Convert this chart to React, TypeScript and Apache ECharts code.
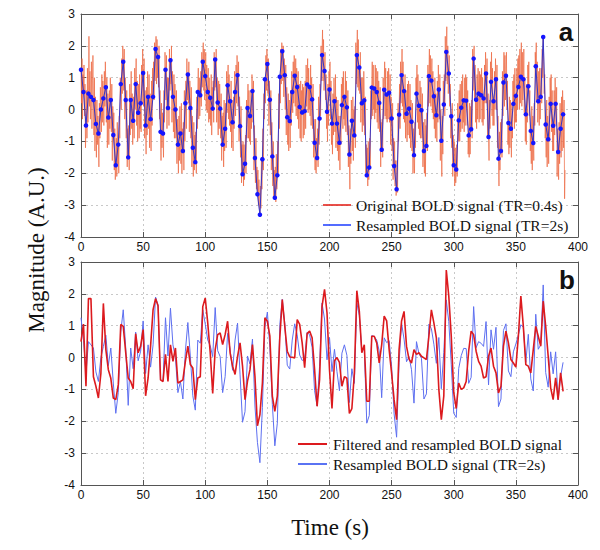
import React, { useEffect, useRef } from "react";
import * as echarts from "echarts";

// Sampling intervals (s)
const resampledTR = 2;
const originalTR = 0.4;

// Resampled BOLD signal (TR = 2 s), t = 0..388 s
const resampled = [
  1.25, 0.55, -0.5, 0.5, 0.4, 0.3, -0.45, -0.75, 0.0, 0.35,
  0.7, -0.25, 0.3, -0.8, -1.75, -1.1, 0.8, 1.5, 0.3, -1.5,
  0.3, -0.35, 0.8, -0.1, 0.2, 1.15, -0.5, 0.4, -0.3, 0.4,
  1.9, 1.65, -0.7, -0.75, 1.25, 0.05, 1.55, 0.4, 0.0, -1.1,
  -0.75, -1.3, 0.2, 1.1, 0.05, -1.2, -1.65, 0.55, 0.45, 1.5,
  1.05, 0.55,
  0.37, 0.03, 1.57, 0.22, 0.03, -1.1, -0.6, 0.76, 0.26, -0.4,
  0.55, 1.08, -0.52, -2.03, -1.7, 0.05, -0.2, 0.58, -1.52, -2.66,
  -3.3, -1.56, 0.95, 1.43, 0.31, -1.47, -2.77, -2.06, 1.03, 1.83,
  1.08, -0.24, -0.36, 0.55, 1.06, 0.71, 0.08, -0.09, -0.05, 0.79,
  0.71, 0.32, -1.04, -1.52, -0.28, 1.71, 1.21, -0.07,
  0.63, -0.44, 0.26, -0.44, -1.04, 0.14, 0.4, 0.07, -1.41, -0.35,
  -0.81, 1.71, 1.32, 0.2, 0.29, -2.06, -1.82, 0.69, 0.66, 0.55,
  0.21, -1.26, 0.62, 0.47, 0.53, -0.28, -1.77, -2.5, -0.16, 1.08,
  0.58, -0.13, 0.03, -0.38, -1.43, 0.5, 0.12, -0.02, -1.3, -1.14,
  1.05, 0.91, 0.42, -0.18, 0.63, -0.98, 0.16, 1.81, 1.13, -0.21,
  -1.75, -1.88, -0.34,
  0.06, 0.29, 0.28, -0.81, -0.62, 1.6, 0.31, 0.5, 0.45, 0.35,
  1.13, -0.86, 0.87, 0.26, 0.95, -1.54, -1.3, 0.85, 1.06, -0.42,
  -0.6, 0.18, 0.43, 0.71, 1.03, 0.95, -0.15, 0.73, -0.67, -1.05,
  1.36, 0.26, 0.4, 2.28, -0.47, -0.93, 0.18, -0.51, 0.18, -1.33,
  -0.6, -0.15,
];

// Filtered and resampled BOLD signal (TR = 2 s), t = 0..388 s
const filtered = [
  0.5, 1.05, -0.9, 1.85, 1.85, -0.6, -0.9, -1.27, -0.5, 1.7,
  0.25, -0.38, -0.65, -1.27, -1.32, -0.85, 1.04, 0.98, 0.15, -0.64,
  -0.75, -0.98, 0.75, 0.15, 0.36, 0.88, -1.2, -0.64, 0.36, 1.5,
  1.85, 1.63, -0.7, -0.75, 0.1, -0.75, 0.4, -0.12, 0.3, -0.8,
  -0.75, -0.7, -0.12, 0.36, -0.22, -0.33, -1.32, -0.64, -0.6, 1.6,
  1.87, 1.09,
  0.15, -1.13, 0.25, 0.72, 0.77, 0.41, 0.72, 1.14, 0.15, -0.27,
  -0.53, 0.04, 0.46, -0.27, -1.32, -0.74, -0.38, 0.41, -0.59, -2.14,
  -1.79, -0.8, 1.25, 1.14, 0.67, -1.21, -1.69, -1.21, 0.62, 1.82,
  0.98, 0.2, 0.02, 0.01, -0.01, 1.19, 1.04, 0.46, -0.32, 0.75,
  0.83, 0.62, -0.38, -1.53, -0.69, 1.61, 2.14, 1.4,
  -0.38, -1.6, -0.1, 0.0, -0.15, -0.9, -0.6, -0.65, -1.75, -1.6,
  -0.5, 2.1, 1.45, 0.15, 0.4, -1.37, -1.37, 0.67, 0.67, 0.46,
  -0.17, 0.4, 1.3, 1.15, 0.25, -0.5, -1.33, -1.95, 0.25, 1.15,
  1.45, 0.35, -0.05, -0.17, 0.25, 0.1, 0.15, 0.04, -0.01, -0.06,
  0.67, 1.5, 1.09, 0.62, -1.0, -1.95, -1.2, 2.75, 1.93, 0.67,
  -1.1, -1.6, -0.8,
  -1.0, -0.95, -0.75, 0.2, 0.83, 0.72, 0.2, -0.12, -0.27, -0.64,
  -0.6, 0.04, 0.3, -0.27, -0.48, -1.11, -0.9, 0.36, 0.83, 0.46,
  -0.06, -0.17, -0.3, 0.67, 1.93, 0.98, -0.22, -0.27, -0.48, 0.25,
  0.98, 0.67, 0.36, 1.77, 0.98, 0.04, -0.95, -1.32, -0.64, -1.32,
  -0.48, -1.06,
];

// Original BOLD signal (TR = 0.4 s): the four samples between consecutive 2-s samples
const originalBetween = [
  0.2,1.6,-0.3,1.1, 1.4,-0.2,0.8,-1.2, 0.6,-0.9,1.3,-0.4, 2.3,0.1,1.2,-0.3, 1.5,-0.6,0.9,1.7,
  -0.8,1.0,-1.3,0.4, -1.5,0.3,-1.1,-0.2, -1.8,0.2,-0.9,0.7, -0.7,1.1,-0.4,0.9, -0.5,1.2,0.1,1.5,
  -0.4,1.0,-1.2,0.5, -1.1,0.6,-0.6,1.0, -0.7,0.8,-1.6,0.1, -0.1,-1.9,-0.6,-2.2, -0.9,-2.1,-0.4,-1.7,
  -2.0,-0.2,-0.9,1.0, 0.0,1.6,0.5,2.0, 0.6,1.9,-0.3,1.0, -0.9,0.6,-1.8,-0.6, -0.5,-1.9,0.8,-0.8,
  1.2,-0.6,0.5,-1.1, 0.4,-0.9,1.3,0.0, 1.6,-0.5,0.9,-1.0, 0.8,-0.9,1.1,-0.6, -0.7,1.4,0.2,1.9,
  0.1,1.6,-0.9,0.6, -1.4,0.7,-0.8,1.2, -0.6,1.1,-1.2,0.5, -1.3,0.9,-0.5,1.3, 1.5,0.3,2.1,0.9,
  2.3,0.8,2.2,1.0, 0.7,2.0,-0.3,0.6, -1.6,0.2,-1.2,-0.1, -1.5,0.6,-0.4,1.8, 0.3,1.7,-0.6,1.0,
  1.0,-0.5,1.9,0.6, 0.8,2.0,-0.4,1.2, -0.7,1.1,-0.9,0.8, -0.9,0.6,-1.7,-0.3, -2.0,-0.2,-1.6,0.1,
  -1.7,0.2,-2.0,-0.6, -0.4,-1.9,0.6,-1.0, 0.9,-0.6,1.6,0.3, 0.2,1.5,-0.7,0.9, -0.9,0.7,-1.8,-0.2,
  -2.1,-0.4,-1.9,-0.8, -0.7,-2.0,0.4,-0.6, 1.3,-0.3,1.0,-0.2, 1.2,0.1,1.8,0.7, 2.1,0.6,1.9,0.3,
  1.8,0.0,1.4,-0.1, 1.3,-0.4,1.0,-0.3, -0.5,1.1,-0.8,0.7, 0.9,-0.4,1.8,0.6, 0.7,1.9,-0.4,1.0,
  -0.8,0.9,-0.6,0.8, -0.9,0.5,-1.6,-0.2, -0.1,-1.8,0.3,-1.3, 0.2,-1.2,1.2,-0.1, 1.4,-0.3,1.1,-0.5,
  -0.7,0.9,-1.2,0.3, -1.3,0.4,-0.6,1.2, -0.2,1.4,0.2,1.7, 0.1,1.5,-1.0,0.4, -1.5,0.1,-2.3,-1.1,
  -1.0,-2.4,-1.1,-2.2, -0.8,-2.0,0.3,-0.9, 0.8,-0.9,0.6,-1.0, -1.1,0.6,-0.6,1.1, -0.4,0.9,-1.9,-0.5,
  -2.3,-0.9,-2.5,-1.8, -1.9,-3.0,-2.2,-3.1, -2.4,-3.1,-1.5,-2.5, -0.6,-1.9,0.5,-0.3, 0.2,1.7,0.6,1.9,
  0.5,1.6,-0.5,0.9, -0.8,0.6,-1.9,-0.4, -2.4,-1.0,-2.8,-1.9, -1.8,-2.9,-1.4,-2.5, -1.0,-2.0,0.5,-0.6,
  0.2,1.9,0.8,2.1, 0.9,2.0,0.4,1.6, 0.0,1.4,-0.8,0.7, -1.1,0.5,-1.3,0.3, -1.2,0.6,-0.5,1.2,
  -0.1,1.5,0.2,1.7, 0.1,1.6,-0.2,1.3, -0.3,1.2,-0.6,0.8, -0.9,0.9,-1.0,0.6, 0.8,-0.9,0.7,-0.8,
  0.9,-0.6,1.4,0.1, 1.6,-0.1,1.3,0.0, -0.2,1.4,-0.5,1.0, -0.6,0.8,-1.5,-0.3, -1.9,-0.3,-2.0,-0.9,
  -0.6,-1.8,0.4,-1.1, 0.8,-0.2,2.0,0.9, 2.5,0.9,2.2,0.6, 1.8,0.3,1.1,-0.6, -1.0,0.8,-0.5,1.2,
  1.5,-0.3,0.9,-1.1, -1.4,0.5,-0.8,1.0, -0.7,1.1,-1.2,0.4, -1.3,0.3,-1.6,-0.2, -1.9,-0.2,-1.1,0.8,
  1.0,-0.6,1.2,-0.3, -0.5,1.2,-0.7,0.9, -0.8,0.6,-1.8,-0.5, -2.5,-0.6,-1.7,0.3, -1.3,0.4,-1.6,0.0,
  0.1,-1.2,2.1,0.8, 2.5,0.7,2.2,0.6, 0.5,1.8,-0.4,1.0, -0.7,1.0,-0.5,1.2, -0.8,0.4,-2.0,-1.1,
  -1.2,-2.4,-1.0,-2.2, -0.9,-1.8,0.6,-0.3, 1.5,-0.2,1.4,0.0, -0.3,1.4,-0.1,1.3, -0.4,1.2,-0.6,0.9,
  -0.7,0.7,-1.8,-0.4, -0.3,-1.5,1.0,-0.3, 1.5,-0.2,1.3,-0.3, -0.4,1.2,-0.3,1.3, -0.4,1.1,-1.1,0.4,
  -1.3,0.2,-2.2,-0.9, -1.0,-2.4,-1.6,-2.7, -1.6,-2.6,0.2,-1.0, 0.8,-0.6,1.5,0.2, 1.9,0.1,1.5,-0.3,
  -0.4,1.1,-0.9,0.6, -1.0,0.8,-0.8,0.9, -0.9,0.8,-1.2,0.3, -1.3,0.2,-2.0,-0.6, -2.0,-0.4,-1.2,1.0,
  1.4,-0.4,1.1,-0.6, -0.8,0.9,-0.9,0.7, -0.9,0.5,-1.8,-0.4, -2.0,-0.3,-2.1,-0.5, -0.1,-1.3,1.4,0.1,
  1.9,0.2,1.7,0.1, 1.6,-0.1,1.2,-0.3, -0.6,1.0,-0.9,0.5, -1.0,0.9,-0.4,1.4, -0.3,1.1,-1.6,0.0,
  -2.1,-0.2,-1.4,0.9, 1.1,-0.2,2.3,0.9, 2.6,0.8,2.0,0.5, 1.7,0.1,0.8,-0.9, -1.2,0.2,-2.1,-0.8,
  -1.0,-2.4,-1.2,-2.3, -1.1,-2.1,0.2,-1.0, 0.6,-1.0,0.8,-0.7, 0.9,-0.6,1.1,-0.4, -0.7,1.0,-0.5,1.1,
  1.0,-0.5,0.6,-1.4, -1.5,0.2,-1.4,0.1, 0.3,-0.9,1.9,0.6, 2.0,0.3,1.4,-0.4, -0.6,1.1,-0.3,1.3,
  -0.4,1.2,-0.3,1.1, 1.3,-0.4,1.0,-0.5, -0.3,1.4,0.2,1.8, 0.2,1.6,-0.9,0.5, -1.6,0.3,-0.6,1.5,
  1.8,-0.2,1.3,-0.5, -0.5,1.2,0.0,1.6, 0.0,1.4,-1.2,-0.2, -2.4,-0.7,-1.9,-0.4, -0.3,-1.5,1.2,-0.2,
  1.8,0.1,1.7,0.3, 1.8,0.0,0.9,-1.1, -1.4,0.4,-1.2,0.3, -1.5,0.2,-0.9,0.9, 1.1,-0.6,1.3,-0.4,
  -0.4,1.3,0.0,1.6, 1.7,0.0,1.9,0.2, 2.1,0.1,1.8,0.3, 1.9,-0.1,1.0,-1.0, -1.1,0.8,-0.4,1.4,
  1.5,-0.2,0.6,-1.3, -1.7,0.1,-1.9,-0.2, -1.6,0.2,-0.5,1.8, 2.1,0.3,1.5,-0.4, 1.2,-0.5,1.3,-0.3,
  1.3,0.2,1.9,1.0, 1.5,0.5,1.1,-0.9, -1.5,0.3,-1.8,-0.2, -1.7,0.4,-1.0,1.0, 1.1,-0.7,0.6,-1.3,
  -1.3,0.6,-0.8,1.0, -0.5,0.7,-2.1,-0.6, -2.2,-0.4,-1.7,0.2, -1.5,0.4,-1.3,0.6, -1.2,0.3,-2.8,-1.9,
];

const xTicksMax = 400;
const xTickStep = 50;
const yMin = -4;
const yMax = 3;

const legendTop = ["Original BOLD signal (TR=0.4s)", "Resampled BOLD signal (TR=2s)"];
const legendBottom = ["Filtered and resampled BOLD signal", "Resampled BOLD signal (TR=2s)"];

const SANS = "'Liberation Sans', Arial, Helvetica, sans-serif";
const SERIF = "'Liberation Serif', 'Times New Roman', serif";

export default function App() {
  const ref = useRef<HTMLDivElement>(null);

  useEffect(() => {
    document.body.style.margin = "0";
    const chart = echarts.init(ref.current!, null, { renderer: "svg" });

    const original: number[][] = [];
    resampled.forEach((v, i) => {
      original.push([i * resampledTR, v]);
      for (let k = 0; k < 4; k++) {
        const w = originalBetween[i * 4 + k];
        if (w !== undefined) {
          original.push([+(i * resampledTR + originalTR * (k + 1)).toFixed(1), w]);
        }
      }
    });
    const resPts = resampled.map((v, i) => [i * resampledTR, v]);
    const filtPts = filtered.map((v, i) => [i * resampledTR, v]);

    const axisLine = { show: true, onZero: false, lineStyle: { color: "#555", width: 1 } };
    const axisTick = { show: true, inside: true, length: 5, lineStyle: { color: "#555" } };
    const splitLine = { show: true, lineStyle: { color: "#c8c8c8", type: [2, 3], width: 1 } };
    const label = { color: "#111", fontFamily: SANS, fontSize: 12 };

    const xAxes: any[] = [];
    const yAxes: any[] = [];
    [0, 1].forEach((g) => {
      xAxes.push({
        type: "value", gridIndex: g, min: 0, max: xTicksMax, interval: xTickStep,
        position: "bottom", axisLine, axisTick, splitLine,
        axisLabel: { ...label, margin: 4 },
      });
      xAxes.push({
        type: "value", gridIndex: g, min: 0, max: xTicksMax, interval: xTickStep,
        position: "top", axisLine, axisTick, splitLine: { show: false },
        axisLabel: { show: false },
      });
      yAxes.push({
        type: "value", gridIndex: g, min: yMin, max: yMax, interval: 1,
        position: "left", axisLine, axisTick, splitLine,
        axisLabel: { ...label, margin: 6 },
      });
      yAxes.push({
        type: "value", gridIndex: g, min: yMin, max: yMax, interval: 1,
        position: "right", axisLine, axisTick, splitLine: { show: false },
        axisLabel: { show: false },
      });
    });

    const legendGraphic = (
      names: string[], colors: string[], widths: number[],
      x1: number, x2: number, tx: number, ys: number[], size: number
    ) => {
      const els: any[] = [];
      names.forEach((n, i) => {
        els.push({
          type: "line", shape: { x1, y1: ys[i], x2, y2: ys[i] },
          style: { stroke: colors[i], lineWidth: widths[i] }, z: 100,
        });
        els.push({
          type: "text", x: tx, y: ys[i],
          style: { text: n, fill: "#111", font: `${size}px ${SERIF}`, textVerticalAlign: "middle", textAlign: "left" },
          z: 100,
        });
      });
      return els;
    };

    chart.setOption({
      animation: false,
      backgroundColor: "#fff",
      grid: [
        { left: 81, right: 22, top: 14, height: 223 },
        { left: 81, right: 22, top: 262, height: 223 },
      ],
      xAxis: xAxes,
      yAxis: yAxes,
      series: [
        {
          name: legendTop[0], type: "line", xAxisIndex: 0, yAxisIndex: 0,
          data: original, showSymbol: false, symbol: "none",
          lineStyle: { color: "rgba(236,104,66,0.7)", width: 1 }, z: 2,
        },
        {
          name: legendTop[1], type: "line", xAxisIndex: 0, yAxisIndex: 0,
          data: resPts, symbol: "circle", symbolSize: 4.5, showSymbol: true,
          itemStyle: { color: "#1414ff" },
          lineStyle: { color: "#3434c8", width: 1 }, z: 3,
        },
        {
          name: legendBottom[1], type: "line", xAxisIndex: 2, yAxisIndex: 2,
          data: resPts, showSymbol: false, symbol: "none",
          lineStyle: { color: "#5d6ff0", width: 1 }, z: 2,
        },
        {
          name: legendBottom[0], type: "line", xAxisIndex: 2, yAxisIndex: 2,
          data: filtPts, showSymbol: false, symbol: "none",
          lineStyle: { color: "#dc1a1e", width: 1.6 }, z: 3,
        },
      ],
      graphic: [
        {
          type: "text", x: 36, y: 250, rotation: Math.PI / 2,
          style: { text: "Magnitude (A.U.)", fill: "#111", font: `23px ${SERIF}`, textAlign: "center", textVerticalAlign: "middle" },
        },
        {
          type: "text", x: 330, y: 527,
          style: { text: "Time (s)", fill: "#111", font: `23px ${SERIF}`, textAlign: "center", textVerticalAlign: "middle" },
        },
        {
          type: "text", x: 566, y: 32,
          style: { text: "a", fill: "#111", font: `bold 26px ${SANS}`, textAlign: "center", textVerticalAlign: "middle" },
          z: 100,
        },
        {
          type: "text", x: 567, y: 280,
          style: { text: "b", fill: "#111", font: `bold 26px ${SANS}`, textAlign: "center", textVerticalAlign: "middle" },
          z: 100,
        },
        ...legendGraphic(legendTop, ["#e4261e", "#2a48ff"], [1.6, 1.6], 323, 351, 356, [205, 225], 15.5),
        ...legendGraphic(legendBottom, ["#dc1a1e", "#3050f0"], [2, 1.6], 298, 327, 333, [444, 464], 15.5),
      ],
    });

    return () => chart.dispose();
  }, []);

  return <div ref={ref} style={{ width: 600, height: 550 }} />;
}
